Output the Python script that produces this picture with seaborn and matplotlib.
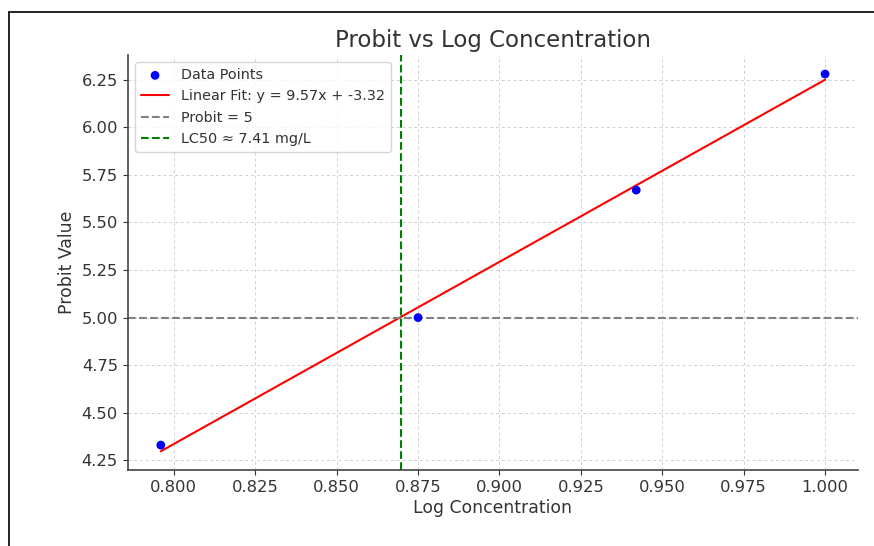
import numpy as np
import pandas as pd
import seaborn as sns
import matplotlib.pyplot as plt
from matplotlib.lines import Line2D

# Data
log_conc = [0.796, 0.875, 0.942, 1.000]
probit = [4.33, 5.00, 5.67, 6.28]
slope = 9.57
intercept = -3.32
probit_ref = 5
lc50 = 7.41

sns.set_style("ticks")
plt.rcParams['font.family'] = ['DejaVu Sans']
text_col = '#333333'
plt.rcParams.update({
    'text.color': text_col,
    'axes.labelcolor': text_col,
    'xtick.color': text_col,
    'ytick.color': text_col,
    'axes.edgecolor': '#444444',
})

df = pd.DataFrame({'log_conc': log_conc, 'probit': probit})
fit_x = np.array([min(log_conc), max(log_conc)])
fit_df = pd.DataFrame({'x': fit_x, 'y': slope * fit_x + intercept})

fig = plt.figure(figsize=(8.74, 5.46), dpi=100)
ax = fig.add_axes([0.146, 0.139, 0.836, 0.760])

sns.scatterplot(data=df, x='log_conc', y='probit', color='blue', s=40,
                edgecolor='none', label='Data Points', ax=ax, zorder=3)
sns.lineplot(data=fit_df, x='x', y='y', color='red', linewidth=1.5,
             label=f'Linear Fit: y = {slope:.2f}x + {intercept:.2f}', ax=ax)
ax.axhline(probit_ref, color='gray', linestyle='--', linewidth=1.5, label='Probit = 5')
ax.axvline(np.log10(lc50), color='green', linestyle='--', linewidth=1.5,
           label=f'LC50 \u2248 {lc50:.2f} mg/L')

ax.set_title('Probit vs Log Concentration', fontsize=16.5, pad=6)
ax.set_xlabel('Log Concentration', fontsize=12.4, labelpad=3)
ax.set_ylabel('Probit Value', fontsize=12.4)
ax.tick_params(labelsize=11.8)
xt = np.arange(0.800, 1.0001, 0.025)
yt = np.arange(4.25, 6.26, 0.25)
ax.set_xticks(xt)
ax.set_xticklabels([f'{t:.3f}' for t in xt])
ax.set_yticks(yt)
ax.set_yticklabels([f'{t:.2f}' for t in yt])
ax.grid(True, linestyle=(0, (3, 3)), color='#d0d0d0', linewidth=0.7)
sns.despine(ax=ax)
for sp in ['left', 'bottom']:
    ax.spines[sp].set_linewidth(1.2)

leg = ax.legend(loc='upper left', fontsize=10.4, frameon=True)
leg.get_frame().set_edgecolor('#cccccc')

# screenshot border on the top and left
fig.add_artist(Line2D([9 / 874, 1], [1 - 12 / 546, 1 - 12 / 546], color='black', linewidth=1.2))
fig.add_artist(Line2D([9 / 874, 9 / 874], [0, 1 - 12 / 546], color='black', linewidth=1.2))

fig.savefig('out.png', dpi=100)
